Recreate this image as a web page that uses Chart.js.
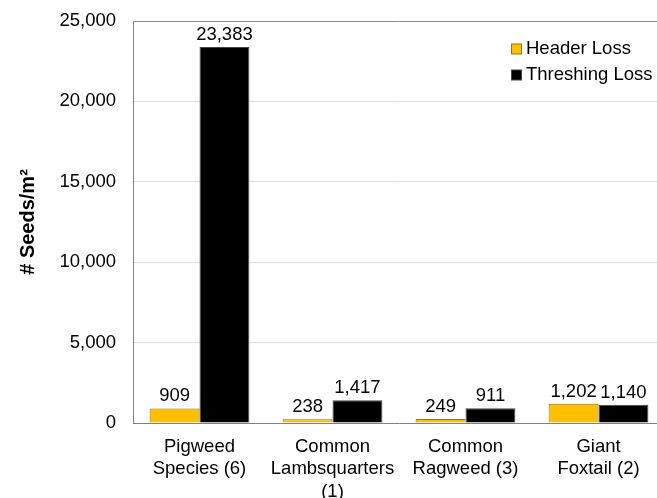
<!DOCTYPE html>
<html>
<head>
<meta charset="utf-8">
<script src="https://cdn.jsdelivr.net/npm/chart.js@4.4.1/dist/chart.umd.min.js"></script>
<style>
  html, body { margin: 0; padding: 0; background: #fff; overflow: hidden; }
  #wrap { width: 665px; height: 498px; }
</style>
</head>
<body>
<div id="wrap"><canvas id="seeds"></canvas></div>
<script>
const categories = [
    ['Pigweed', 'Species (6)'],
    ['Common', 'Lambsquarters', '(1)'],
    ['Common', 'Ragweed (3)'],
    ['Giant', 'Foxtail (2)']
];
const headerLoss = [909, 238, 249, 1202];
const threshingLoss = [23383, 1417, 911, 1140];
const yTicks = [0, 5000, 10000, 15000, 20000, 25000];

const FONT = '"Liberation Sans", Arial, Helvetica, sans-serif';

// value labels above each bar
const barLabels = {
    id: 'barLabels',
    afterDatasetsDraw: (chart) => {
        const ctx = chart.ctx;
        ctx.save();
        ctx.font = '18.5px ' + FONT;
        ctx.fillStyle = '#000';
        ctx.textAlign = 'center';
        ctx.textBaseline = 'bottom';
        chart.data.datasets.forEach((ds, i) => {
            chart.getDatasetMeta(i).data.forEach((bar, j) => {
                ctx.fillText(ds.data[j].toLocaleString('en-US'), bar.x, bar.y - 3);
            });
        });
        ctx.restore();
    }
};

// legend in the top right of the plot
const cornerLegend = {
    id: 'cornerLegend',
    afterDraw: (chart) => {
        const ctx = chart.ctx;
        ctx.save();
        ctx.font = '18.5px ' + FONT;
        ctx.textBaseline = 'middle';
        chart.data.datasets.forEach((ds, i) => {
            const y = 49 + i * 26;
            ctx.fillStyle = ds.backgroundColor;
            ctx.strokeStyle = ds.borderColor;
            ctx.lineWidth = 1;
            ctx.fillRect(511.5, y - 5, 10, 10);
            ctx.strokeRect(511.5, y - 5, 10, 10);
            ctx.fillStyle = '#000';
            ctx.fillText(ds.label, 526, y);
        });
        ctx.restore();
    }
};

new Chart(document.getElementById('seeds'), {
    type: 'bar',
    data: {
        labels: categories,
        datasets: [{
            label: 'Header Loss',
            data: headerLoss,
            backgroundColor: '#FFC000',
            borderColor: '#9a7400',
            borderWidth: 1
        }, {
            label: 'Threshing Loss',
            data: threshingLoss,
            backgroundColor: '#000000',
            borderColor: '#444444',
            borderWidth: 1
        }]
    },
    options: {
        responsive: true,
        maintainAspectRatio: false,
        animation: false,
        layout: { padding: { top: 21, right: 0, bottom: 0, left: 0 } },
        datasets: {
            bar: { barPercentage: 1, categoryPercentage: 0.75 }
        },
        scales: {
            y: {
                min: 0,
                max: 25000,
                afterBuildTicks: (scale) => {
                    scale.ticks = yTicks.map(v => ({ value: v }));
                },
                afterFit: (scale) => {
                    scale.width = 133;
                    scale.paddingTop = 0;
                    scale.paddingBottom = 0;
                },
                border: { color: '#808080', width: 1 },
                grid: {
                    drawTicks: false,
                    color: (c) => c.tick && c.tick.value === 25000 ? '#8c8c8c' : '#dcdcdc'
                },
                ticks: {
                    padding: 17,
                    color: '#000',
                    font: { family: FONT, size: 18.5 },
                    callback: (value) => value.toLocaleString('en-US')
                },
                title: {
                    display: true,
                    text: '# Seeds/m²',
                    color: '#000',
                    font: { family: FONT, size: 20, weight: 'bold' },
                    padding: { top: 16, bottom: 0 }
                }
            },
            x: {
                afterFit: (scale) => { scale.height = 75; },
                border: { color: '#808080', width: 1 },
                grid: { display: false },
                ticks: {
                    padding: 5,
                    color: '#000',
                    maxRotation: 0,
                    autoSkip: false,
                    font: { family: FONT, size: 18.5, lineHeight: 1.2 }
                }
            }
        },
        plugins: {
            legend: { display: false },
            tooltip: { enabled: false }
        }
    },
    plugins: [barLabels, cornerLegend]
});
</script>
</body>
</html>
